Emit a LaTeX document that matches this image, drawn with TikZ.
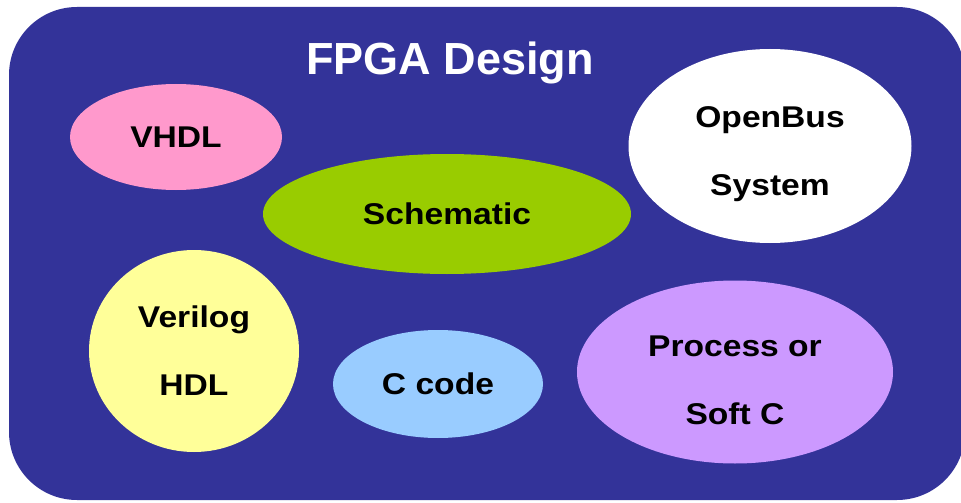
\documentclass[tikz,border=0pt]{standalone}
\usepackage{fontspec}
\setmainfont{Liberation Sans}
\newfontfamily\labelfont[FakeStretch=1.12]{Liberation Sans}
\usetikzlibrary{shapes.geometric}

\definecolor{panelblue}{HTML}{333399}
\definecolor{vhdlpink}{HTML}{FF99CC}
\definecolor{schemgreen}{HTML}{99CC00}
\definecolor{verilogyellow}{HTML}{FFFF99}
\definecolor{ccodeblue}{HTML}{99CCFF}
\definecolor{softclilac}{HTML}{CC99FF}

\begin{document}
\begin{tikzpicture}[
    x=0.75pt, y=-0.75pt,
    panel/.style={fill=panelblue, rounded corners=51pt},
    title/.style={text=white, font=\fontsize{33.75}{40}\selectfont\bfseries},
    blob/.style={ellipse, draw=none, inner sep=0pt, text centered, align=center,
                 font=\labelfont\fontsize{22.5}{51}\selectfont\bfseries}
]
\clip (0,0) rectangle (961,503);

% Panel
\fill[panel] (9,7) rectangle (965,500);

% Title
\node[title] (ttl) at (450,63) {FPGA Design};

% Ellipses
\node[blob, fill=vhdlpink, minimum width=159pt, minimum height=79.5pt] (vhdl) at (176,137) {VHDL};
\node[blob, fill=schemgreen, minimum width=276pt, minimum height=90pt] (schem) at (447,214) {Schematic};
\node[blob, fill=white, minimum width=212.25pt, minimum height=145.5pt, text height=79pt] (openbus) at (770,146) {OpenBus\\System};
\node[blob, fill=verilogyellow, minimum width=157.5pt, minimum height=151.5pt] (verilog) at (194,351) {Verilog\\HDL};
\node[blob, fill=ccodeblue, minimum width=157.5pt, minimum height=81pt] (ccode) at (438,384) {C code};
\node[blob, fill=softclilac, minimum width=237pt, minimum height=137.25pt, text height=79pt] (softc) at (735,372) {Process or\\Soft C};

\end{tikzpicture}
\end{document}
